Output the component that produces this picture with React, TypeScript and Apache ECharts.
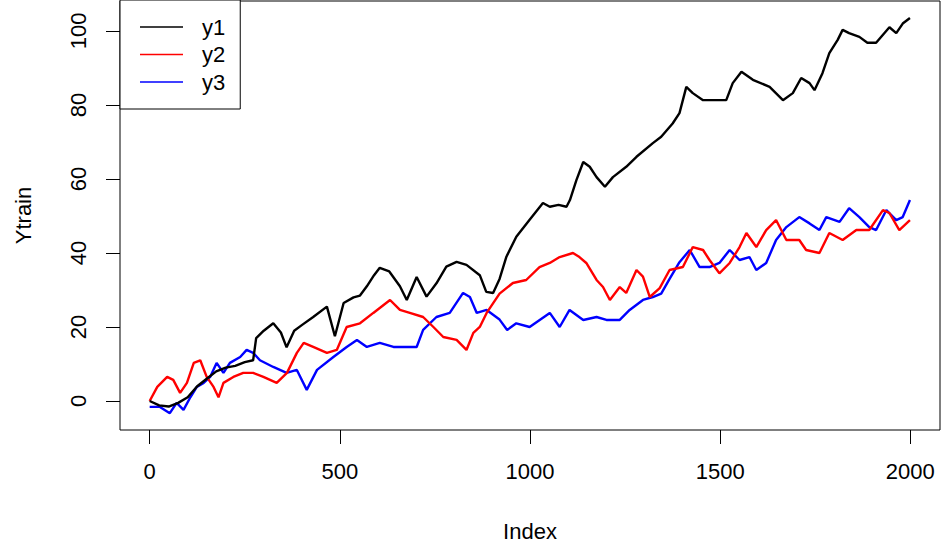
import React, { useEffect, useRef } from "react";
import * as echarts from "echarts";

// [index, value] pairs
const y1Data: [number, number][] = [
  [0, 0], [25, -1.2], [50, -1.5], [75, -0.5], [100, 1], [125, 4], [150, 6], [175, 8],
  [200, 9], [225, 9.5], [250, 10.5], [272, 11], [280, 17], [300, 19], [325, 21], [345, 18.5],
  [360, 14.5], [380, 19], [400, 20.5], [430, 22.7], [466, 25.5], [487, 17.5], [510, 26.5],
  [536, 28], [553, 28.5], [571, 31], [590, 34], [605, 36], [630, 35], [658, 31], [676, 27.3],
  [702, 33.5], [728, 28.2], [754, 31.8], [780, 36.3], [807, 37.6], [833, 36.8], [868, 34],
  [885, 29.5], [903, 29.2], [920, 33], [938, 39], [964, 44.4], [999, 49], [1034, 53.5],
  [1052, 52.5], [1075, 53], [1096, 52.5], [1105, 54.3], [1122, 59.7], [1140, 64.6],
  [1157, 63.3], [1175, 60.5], [1197, 57.9], [1218, 60.5], [1253, 63.3], [1280, 66],
  [1323, 69.7], [1345, 71.4], [1375, 75], [1393, 77.8], [1411, 84.9], [1428, 83.2],
  [1455, 81.3], [1480, 81.3], [1516, 81.3], [1533, 85.9], [1556, 89], [1586, 86.8],
  [1630, 84.9], [1665, 81.3], [1691, 83.2], [1713, 87.3], [1735, 85.9], [1748, 84],
  [1769, 88.6], [1787, 94], [1809, 97.6], [1822, 100.3], [1839, 99.4], [1866, 98.4],
  [1887, 96.8], [1910, 96.8], [1945, 101], [1963, 99.4], [1980, 102], [1999, 103.5],
];

const y2Data: [number, number][] = [
  [0, 0], [20, 3.8], [46, 6.5], [62, 5.7], [80, 2.2], [98, 4.9], [116, 10.3], [133, 11],
  [150, 6.5], [168, 3.8], [181, 1], [194, 4.9], [220, 6.5], [246, 7.6], [272, 7.6],
  [299, 6.5], [334, 4.9], [361, 7.6], [387, 13], [405, 15.7], [430, 14.6], [466, 13],
  [492, 13.8], [518, 20], [553, 21], [588, 23.8], [632, 27.3], [658, 24.6], [684, 23.8],
  [719, 22.7], [746, 20], [772, 17.3], [807, 16.5], [833, 13.8], [851, 18.4], [868, 20],
  [886, 23.8], [920, 29], [955, 31.9], [990, 32.7], [1025, 36.2], [1052, 37.3],
  [1078, 38.9], [1113, 40], [1130, 38.9], [1148, 37.3], [1175, 32.7], [1192, 30.8],
  [1210, 27.3], [1236, 30.8], [1253, 29.2], [1280, 35.4], [1297, 33.6], [1315, 28.1],
  [1341, 30.5], [1367, 35.4], [1402, 36.2], [1428, 41.6], [1455, 40.8], [1472, 38.1],
  [1498, 34.5], [1525, 37.3], [1551, 41.6], [1569, 45.4], [1595, 41.6], [1621, 46.2],
  [1647, 48.9], [1674, 43.5], [1708, 43.5], [1726, 40.8], [1761, 40], [1787, 45.4],
  [1822, 43.5], [1858, 46.2], [1892, 46.2], [1928, 51.6], [1945, 50.8], [1971, 46.2],
  [1999, 48.9],
];

const y3Data: [number, number][] = [
  [0, -1.6], [27, -1.6], [53, -3.3], [71, -0.5], [89, -2.4], [107, 1], [124, 3.8],
  [142, 4.9], [159, 6.5], [176, 10.3], [194, 7.6], [211, 10.3], [238, 11.9], [255, 13.8],
  [272, 13], [290, 11], [325, 9.2], [360, 7.6], [387, 8.4], [413, 3], [440, 8.4],
  [483, 11.9], [518, 14.6], [545, 16.5], [571, 14.6], [605, 15.7], [641, 14.6],
  [676, 14.6], [702, 14.6], [719, 19.2], [754, 22.7], [789, 23.8], [824, 29.2],
  [842, 28.1], [860, 23.8], [886, 24.6], [920, 22], [940, 19.2], [964, 21], [999, 20],
  [1052, 23.8], [1078, 20], [1104, 24.6], [1140, 21.9], [1175, 22.7], [1201, 21.9],
  [1236, 21.9], [1262, 24.6], [1297, 27.3], [1323, 28.1], [1345, 29], [1367, 33],
  [1393, 37.5], [1420, 40.8], [1446, 36.2], [1472, 36.2], [1498, 37.3], [1525, 40.8],
  [1551, 38.1], [1577, 38.9], [1595, 35.4], [1621, 37.3], [1647, 43.5], [1674, 47],
  [1708, 49.7], [1735, 48], [1761, 46.2], [1779, 49.7], [1814, 48.4], [1839, 52.1],
  [1866, 49.7], [1892, 47], [1910, 46.2], [1937, 51.6], [1963, 48.9], [1980, 49.7],
  [1999, 54.3],
];

const seriesNames = ["y1", "y2", "y3"];
const seriesColors = ["#000000", "#ff0000", "#0000ff"];
const xTicks = [0, 500, 1000, 1500, 2000];
const yTicks = [0, 20, 40, 60, 80, 100];

const FONT = "'Liberation Sans', Arial, Helvetica, sans-serif";

export default function App() {
  const ref = useRef<HTMLDivElement>(null);

  useEffect(() => {
    if (!ref.current) return;
    const chart = echarts.init(ref.current, undefined, { renderer: "svg" });
    const datasets = [y1Data, y2Data, y3Data];
    chart.setOption({
      animation: false,
      backgroundColor: "#ffffff",
      textStyle: { fontFamily: FONT },
      grid: {
        left: 120,
        right: 1,
        top: 1,
        bottom: 122,
        show: true,
        borderColor: "#000",
        borderWidth: 1,
        containLabel: false,
      },
      legend: {
        orient: "vertical",
        left: 120,
        top: 0,
        data: seriesNames,
        icon: "rect",
        itemWidth: 43,
        itemHeight: 1.5,
        itemGap: 1.5,
        padding: [14, 15, 14, 20],
        borderColor: "#000",
        borderWidth: 1,
        backgroundColor: "#fff",
        borderRadius: 0,
        selectedMode: false,
        textStyle: {
          fontFamily: FONT,
          fontSize: 22,
          color: "#000",
          lineHeight: 26,
          padding: [0, 0, 0, 14],
        },
      },
      xAxis: {
        type: "value",
        min: -78,
        max: 2078,
        name: "Index",
        nameLocation: "middle",
        nameGap: 90,
        nameTextStyle: { fontFamily: FONT, fontSize: 22, color: "#000" },
        axisLine: { show: false, onZero: false },
        splitLine: { show: false },
        axisTick: {
          show: true,
          inside: false,
          length: 14,
          customValues: xTicks,
          lineStyle: { color: "#000", width: 1 },
        },
        axisLabel: {
          customValues: xTicks,
          margin: 30,
          fontFamily: FONT,
          fontSize: 22,
          color: "#000",
          formatter: (v: number) => String(v),
        },
      },
      yAxis: {
        type: "value",
        min: -7.84,
        max: 108.1,
        name: "Ytrain",
        nameLocation: "middle",
        nameRotate: 90,
        nameGap: 86,
        nameTextStyle: { fontFamily: FONT, fontSize: 22, color: "#000" },
        axisLine: { show: false, onZero: false },
        splitLine: { show: false },
        axisTick: {
          show: true,
          inside: false,
          length: 14,
          customValues: yTicks,
          lineStyle: { color: "#000", width: 1 },
        },
        axisLabel: {
          customValues: yTicks,
          rotate: 90,
          margin: 31,
          fontFamily: FONT,
          fontSize: 22,
          color: "#000",
          formatter: (v: number) => String(v),
        },
      },
      series: datasets.map((d, k) => ({
        name: seriesNames[k],
        type: "line",
        data: d,
        showSymbol: false,
        symbol: "none",
        lineStyle: { color: seriesColors[k], width: 2.4 },
        itemStyle: { color: seriesColors[k] },
        z: 3 - k,
      })),
    });
    return () => chart.dispose();
  }, []);

  return (
    <div
      ref={ref}
      style={{ position: "fixed", left: 0, top: 0, width: 941, height: 552, background: "#fff" }}
    />
  );
}
